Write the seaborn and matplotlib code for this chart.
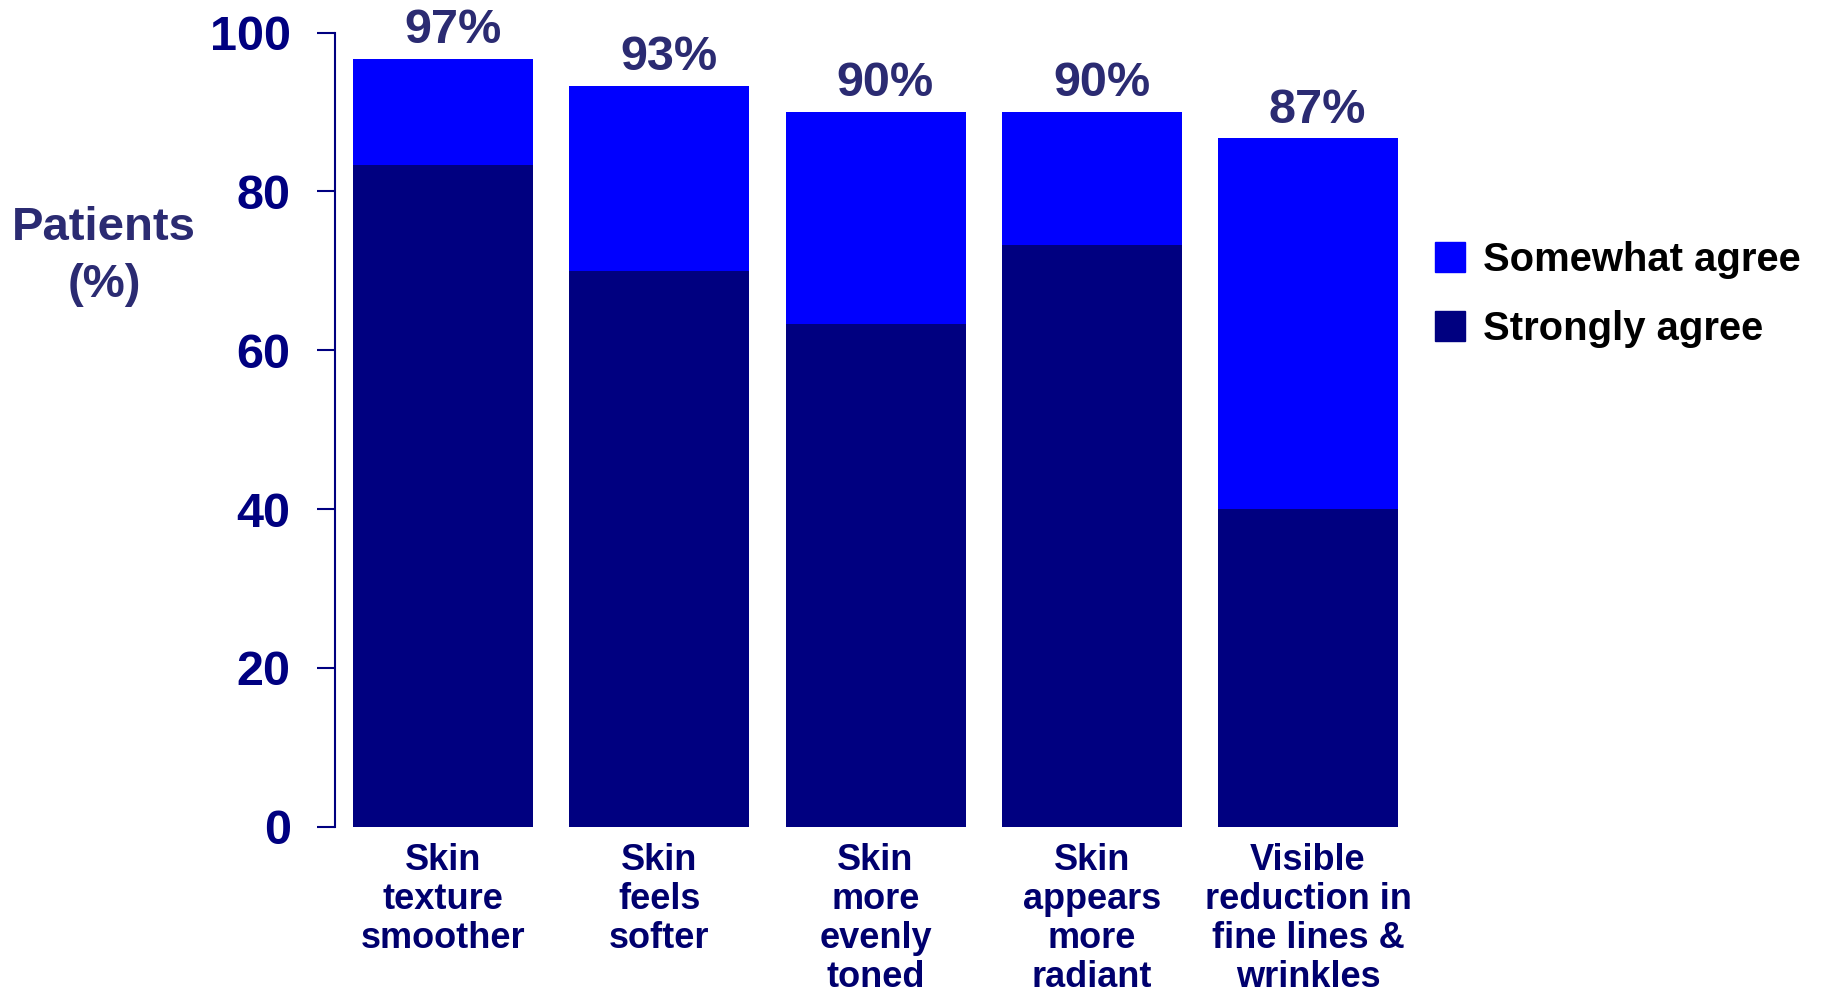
import matplotlib
matplotlib.use("Agg")
import matplotlib.pyplot as plt
import matplotlib.patches as mpatches
import seaborn as sns
import pandas as pd

# Patient-reported skin outcomes (% of patients)
categories = [
    "Skin\ntexture\nsmoother",
    "Skin\nfeels\nsofter",
    "Skin\nmore\nevenly\ntoned",
    "Skin\nappears\nmore\nradiant",
    "Visible\nreduction in\nfine lines &\nwrinkles",
]
strongly_agree = [83.3, 70.0, 63.3, 73.3, 40.0]
somewhat_agree = [13.4, 23.3, 26.7, 16.7, 46.7]
y_ticks = [0, 20, 40, 60, 80, 100]

SOMEWHAT_COLOR = "#0000FF"
STRONGLY_COLOR = "#000080"
NAVY_TEXT = "#000080"
LABEL_TEXT = "#2B2B72"

df = pd.DataFrame({
    "category": categories,
    "strongly": strongly_agree,
    "somewhat": somewhat_agree,
})
df["total"] = df["strongly"] + df["somewhat"]

sns.set_theme(style="white")
plt.rcParams["font.family"] = ["Liberation Sans", "DejaVu Sans"]
plt.rcParams["font.weight"] = "bold"

fig = plt.figure(figsize=(18.26, 9.98), dpi=100)
ax = fig.add_axes([0.1835, 0.1716, 0.592, 0.7957])

# Stacked bars: full total in light blue, strongly-agree portion on top
sns.barplot(data=df, x="category", y="total", color=SOMEWHAT_COLOR,
            saturation=1, width=0.833, ax=ax, order=categories, linewidth=0)
sns.barplot(data=df, x="category", y="strongly", color=STRONGLY_COLOR,
            saturation=1, width=0.833, ax=ax, order=categories, linewidth=0)

for i, tot in enumerate(df["total"]):
    ax.annotate(f"{round(tot)}%", xy=(i, tot), xytext=(7, 4),
                textcoords="offset points", ha="center", va="bottom",
                fontsize=35, fontweight="bold", color=LABEL_TEXT,
                annotation_clip=False)

ax.set_xlim(-0.5, len(categories) - 0.5)
ax.set_ylim(0, 100)
ax.set_yticks(y_ticks)
ax.set_yticklabels([str(t) for t in y_ticks])
ax.set_xlabel("")
ax.set_ylabel("")

for side in ["top", "right", "bottom"]:
    ax.spines[side].set_visible(False)
ax.spines["left"].set_color(NAVY_TEXT)
ax.spines["left"].set_linewidth(1.5)

ax.tick_params(axis="y", direction="out", length=13, width=1.5,
               color=NAVY_TEXT, pad=19, labelsize=35, labelcolor=NAVY_TEXT,
               left=True)
ax.tick_params(axis="x", length=0, pad=12, labelsize=26,
               labelcolor="#00006E")
for lbl in ax.get_xticklabels():
    lbl.set_fontweight("bold")
    lbl.set_linespacing(1.14)
    lbl.set_va("top")
for lbl in ax.get_yticklabels():
    lbl.set_fontweight("bold")

fig.text(0.057, 0.743, "Patients\n(%)", ha="center", va="center",
         fontsize=34, fontweight="bold", color=LABEL_TEXT, linespacing=1.38)

handles = [
    mpatches.Patch(color=SOMEWHAT_COLOR, label="Somewhat agree"),
    mpatches.Patch(color=STRONGLY_COLOR, label="Strongly agree"),
]
fig.legend(handles=handles, loc="center left", bbox_to_anchor=(0.766, 0.705),
           frameon=False, handlelength=0.75, handleheight=0.75,
           handletextpad=0.45, labelspacing=0.78, labelcolor="black",
           prop={"weight": "bold", "size": 28.8})

fig.savefig("out.png", dpi=100)
